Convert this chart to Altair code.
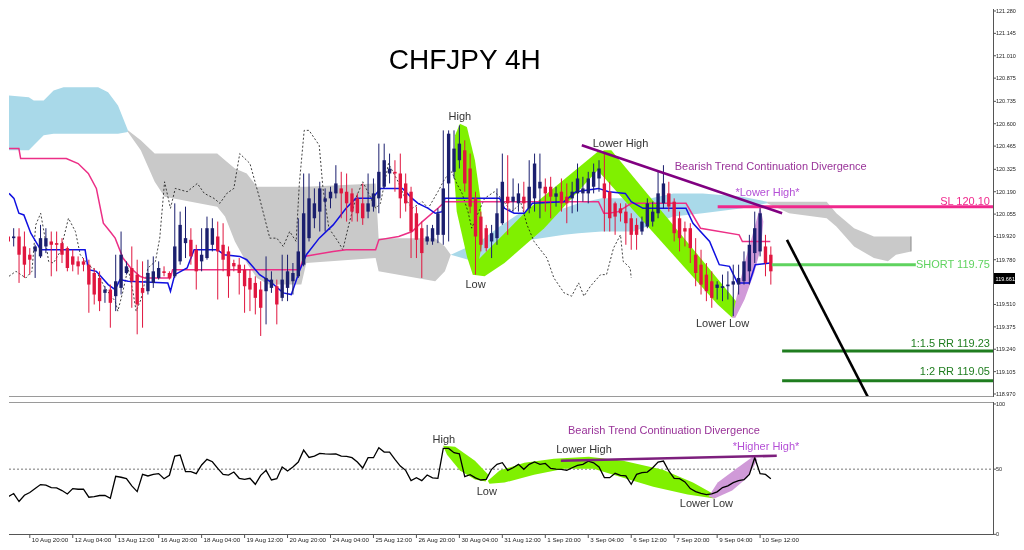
import altair as alt
import pandas as pd

# ---------------- price candles (4H bars, index 0..142) ----------------
opens = [119.92,119.91,119.92,119.86,119.81,119.83,119.80,119.86,119.89,119.88,
         119.88,119.85,119.80,119.77,119.77,119.75,119.70,119.67,119.58,119.60,
         119.56,119.61,119.70,119.73,119.69,119.61,119.59,119.64,119.67,119.71,
         119.70,119.68,119.77,119.88,119.90,119.84,119.77,119.79,119.87,119.92,
         119.87,119.83,119.76,119.75,119.72,119.67,119.64,119.60,119.59,119.61,
         119.62,119.55,119.61,119.65,119.68,119.75,119.91,120.03,120.07,120.13,
         120.15,120.18,120.21,120.19,120.18,120.15,120.12,120.07,120.10,120.15,
         120.22,120.30,120.31,120.30,120.24,120.19,120.06,119.97,119.89,119.89,
         119.93,119.93,120.24,120.31,120.38,120.44,120.33,120.15,120.04,119.97,
         119.89,119.91,120.00,120.16,120.13,120.12,120.16,120.09,120.15,120.21,
         120.22,120.22,120.16,120.19,120.16,120.15,120.18,120.18,120.18,120.22,
         120.27,120.24,120.19,120.12,120.09,120.07,120.03,119.99,119.95,119.98,
         120.01,120.06,120.12,120.18,120.13,120.03,119.97,119.97,119.81,119.75,
         119.69,119.65,119.61,119.61,119.62,119.63,119.63,119.65,119.71,119.82,
         119.83,119.86,119.81]
highs = [119.97,119.97,119.97,119.95,119.85,119.87,119.99,119.97,119.95,119.95,
         119.91,119.86,119.84,119.80,119.79,119.78,119.73,119.71,119.62,119.63,
         119.81,119.95,119.77,119.86,119.78,119.77,119.78,119.80,119.77,119.74,
         119.71,120.12,120.07,120.10,119.97,119.87,119.97,120.04,120.03,120.01,
         120.00,119.86,119.78,119.79,119.75,119.72,119.68,119.65,119.80,119.71,
         119.66,119.81,119.81,119.76,120.03,120.30,120.30,120.21,120.25,120.21,
         120.22,120.35,120.31,120.30,120.21,120.18,120.24,120.30,120.27,120.48,
         120.48,120.42,120.38,120.42,120.30,120.22,120.10,120.01,119.99,119.99,
         120.09,120.56,120.56,120.56,120.59,120.50,120.42,120.19,120.07,119.99,
         119.99,120.21,120.42,120.41,120.27,120.24,120.25,120.38,120.42,120.42,
         120.27,120.28,120.22,120.27,120.24,120.25,120.36,120.28,120.31,120.36,
         120.38,120.42,120.25,120.13,120.12,120.12,120.06,120.03,120.04,120.15,
         120.13,120.31,120.35,120.25,120.15,120.07,120.01,120.00,119.91,119.84,
         119.76,119.71,119.65,119.69,119.71,119.75,119.75,119.83,119.93,120.07,
         120.10,119.93,119.86]
lows = [119.84,119.86,119.64,119.67,119.69,119.67,119.79,119.82,119.68,119.71,
        119.76,119.71,119.71,119.69,119.71,119.46,119.51,119.47,119.52,119.37,
        119.47,119.57,119.69,119.49,119.33,119.37,119.57,119.61,119.66,119.68,
        119.66,119.67,119.75,119.79,119.75,119.60,119.71,119.78,119.83,119.54,
        119.71,119.55,119.71,119.57,119.46,119.47,119.45,119.32,119.39,119.58,
        119.39,119.53,119.53,119.57,119.67,119.74,119.89,119.97,119.95,119.95,
        120.09,120.15,120.03,120.01,120.01,120.01,119.99,120.03,120.07,120.06,
        120.21,120.24,120.19,120.03,120.07,119.79,119.79,119.67,119.87,119.87,
        119.88,119.87,119.89,120.27,120.33,120.19,120.06,119.69,119.83,119.83,
        119.79,119.87,119.99,119.93,120.07,120.07,120.07,120.06,120.07,120.03,
        120.07,120.03,120.10,120.07,120.00,120.06,120.07,120.13,120.12,120.18,
        120.19,119.95,119.95,119.93,120.01,119.87,119.84,119.84,119.93,119.97,
        119.98,120.03,120.09,120.07,119.89,119.83,119.86,119.76,119.62,119.57,
        119.53,119.49,119.54,119.53,119.54,119.44,119.57,119.63,119.63,119.76,
        119.80,119.68,119.63]
closes = [119.89,119.92,119.81,119.75,119.78,119.86,119.91,119.91,119.87,119.87,
          119.81,119.73,119.75,119.74,119.75,119.63,119.57,119.53,119.60,119.52,
          119.65,119.81,119.74,119.65,119.51,119.58,119.70,119.71,119.73,119.70,
          119.67,119.86,119.99,119.91,119.80,119.71,119.81,119.97,119.97,119.83,
          119.78,119.68,119.74,119.70,119.62,119.60,119.55,119.49,119.67,119.66,
          119.51,119.66,119.71,119.70,119.83,120.06,120.15,120.12,120.21,120.15,
          120.19,120.24,120.18,120.12,120.07,120.06,120.03,120.12,120.18,120.31,
          120.38,120.33,120.30,120.15,120.12,119.95,119.90,119.82,119.92,119.97,
          120.06,120.21,120.54,120.45,120.48,120.24,120.10,119.92,119.87,119.85,
          119.94,120.06,120.25,120.12,120.16,120.18,120.12,120.22,120.36,120.25,
          120.18,120.16,120.18,120.12,120.12,120.19,120.27,120.21,120.27,120.31,
          120.33,120.15,120.03,120.04,120.06,120.00,119.93,119.93,120.01,120.12,
          120.07,120.18,120.24,120.10,119.94,119.91,119.95,119.85,119.70,119.63,
          119.59,119.55,119.63,119.62,119.63,119.65,119.67,119.77,119.87,119.97,
          120.06,119.76,119.71]

# ---------------- RSI-style oscillator ----------------
osc = [29.0,31.3,25.2,30.0,32.1,35.1,38.2,37.7,35.9,35.6,
       33.6,31.0,35.1,34.6,34.6,28.5,29.0,29.8,29.8,27.7,
       44.5,43.8,42.7,37.2,32.8,46.0,44.8,46.0,46.6,42.7,
       45.3,60.0,60.8,48.1,48.1,46.6,53.2,57.5,55.7,50.6,
       46.0,45.5,47.8,43.0,42.2,43.0,38.4,45.3,49.1,41.7,
       42.7,51.7,48.6,51.7,55.5,64.6,59.0,60.0,62.1,61.8,
       61.6,61.8,60.0,59.8,58.8,55.5,50.9,58.8,58.8,66.4,
       63.1,63.1,57.5,52.4,49.1,41.2,43.5,41.2,45.5,43.3,
       43.0,65.9,65.9,62.6,61.8,44.3,45.8,43.3,41.7,42.2,
       49.9,53.7,55.0,49.1,51.1,53.7,49.9,53.7,55.5,53.7,
       54.4,50.6,50.1,49.9,49.1,51.1,52.9,53.7,56.2,54.9,
       51.7,43.5,43.5,46.8,45.3,44.8,38.4,46.0,47.3,47.8,
       51.1,55.5,56.2,48.6,43.0,42.7,40.2,35.1,32.8,31.5,
       30.5,31.0,32.6,35.9,37.2,39.7,41.2,42.0,46.0,58.8,
       46.6,46.0,42.7]

# ---------------- Ichimoku lines (vertex bar index / price) ----------------
tenkan_i = [0.13,1.05,1.97,2.9,4.19,6.03,14.3,14.9,16.4,18.6,19.9,20.8,22.3,29.7,30.2,31.0,33.3,34.6,38.9,40.2,
            43.1,44.4,46.8,48.7,51.2,52.7,54.2,55.5,57.9,60.5,62.9,64.7,67.8,69.3,73.4,75.2,76.3,78.2,79.5,80.8,
            81.3,87.4,91.5,92.4,94.2,96.1,97.6,103.5,105.7,109.9,111.8,114.9,116.0,118.2,126.2,127.5,130.6,132.4,
            134.3,135.8,138.0,139.1,141.9]
tenkan_p = [120.18,120.15,120.06,120.05,119.94,119.84,119.84,119.72,119.71,119.63,119.60,119.66,119.65,119.64,119.59,
            119.69,119.73,119.84,119.84,119.81,119.80,119.78,119.69,119.65,119.58,119.57,119.71,119.81,119.91,119.99,
            120.09,120.15,120.15,120.21,120.21,120.15,120.12,120.09,120.06,120.07,120.15,120.15,120.15,120.09,120.06,
            120.06,120.12,120.13,120.19,120.21,120.19,120.18,120.13,120.09,120.09,120.00,119.89,119.75,119.74,119.64,
            119.64,119.75,119.76]
kijun_i = [0.13,1.97,2.3,10.8,13.0,14.9,16.4,17.7,18.95,19.9,21.35,22.8,24.5,25.4,30.2,30.6,54.2,55.1,60.5,62.9,
           68.4,69.0,72.7,75.2,77.1,80.0,81.3,109.9,110.9,111.8,113.6,116.0,126.2,128.9,136.1,136.7,141.9]
kijun_p = [120.45,120.45,120.39,120.39,120.36,120.30,120.21,120.00,119.95,119.91,119.79,119.73,119.68,119.67,119.67,
           119.72,119.72,119.80,119.83,119.84,119.84,119.90,119.92,119.95,120.01,120.09,120.13,120.13,120.06,120.06,
           120.07,120.12,120.12,119.97,119.93,119.89,119.89]
chikou_i = [0.13,1.42,3.27,4.4,5.11,6.03,6.96,7.5,8.4,9.7,11.2,12.5,13.4,14.9,16.4,18.0,19.9,20.4,21.35,22.3,
            23.2,23.8,24.7,26.0,27.4,28.2,29.1,30.2,31.1,33.3,35.2,36.5,38.3,39.4,40.7,42.0,43.1,45.0,46.8,48.7,
            50.0,51.2,52.4,53.6,54.2,55.1,56.0,57.9,58.6,59.7,61.4,62.3,63.4,64.7,66.0,67.1,68.4,69.3,70.8,72.6,
            73.9,75.2,77.1,78.2,80.0,81.3,82.6,83.5,84.5,85.6,86.3,87.2,88.7,90.5,91.8,93.7,95.5,96.6,97.9,100.3,
            101.6,103.5,104.9,106.2,107.2,108.4,110.3,111.4,112.7,114.0,114.5,115.8,116.0]
chikou_p = [119.68,119.71,119.67,119.71,119.99,120.06,119.89,119.77,119.76,119.83,120.03,119.95,119.81,119.75,119.71,
            119.61,119.53,119.47,119.59,119.73,119.59,119.47,119.54,119.73,119.77,119.91,120.25,120.09,120.21,120.19,
            120.24,120.18,120.15,120.12,120.18,120.21,120.42,120.36,120.15,119.91,119.91,119.86,119.95,119.89,120.24,
            120.56,120.56,120.47,120.21,119.97,119.89,119.84,119.99,120.15,120.25,120.18,120.09,120.12,120.36,120.25,
            120.15,120.09,120.13,120.09,120.19,120.27,120.31,120.24,120.18,120.07,119.97,120.04,120.15,120.19,120.15,
            120.07,120.12,119.99,119.89,119.79,119.67,119.58,119.56,119.64,119.56,119.62,119.69,119.69,119.85,119.93,
            119.77,119.73,119.67]

# ---------------- Ichimoku cloud (segments: vertex bar index, span top, span bottom) ----------------
cloud_seg = ["b1"] * 10 + ["g1"] * 17 + ["b2"] * 13 + ["g2"] * 9
cloud_kind = ["bull"] * 10 + ["bear"] * 17 + ["bull"] * 13 + ["bear"] * 9
cloud_i = [0.13,3.82,4.74,6.59,8.43,10.28,16.74,18.58,20.43,22.27,
           22.27,24.67,27.26,29.1,38.9,40.36,42.2,44.4,46.3,48.5,54.57,55.5,68.4,68.96,79.5,81.3,82.4,
           82.4,87.8,91.5,95.2,103.5,106.2,110.5,116.4,119.7,123.8,129.3,136.7,141.3,
           141.3,145.4,152.4,154.2,157.5,161.2,163.8,165.3,168.1]
cloud_top = [120.77,120.76,120.74,120.74,120.80,120.82,120.82,120.79,120.71,120.56,
             120.56,120.50,120.42,120.42,120.42,120.38,120.33,120.30,120.22,120.22,120.22,120.22,120.24,119.91,119.91,119.86,119.81,
             119.81,119.89,119.98,120.06,120.09,120.12,120.15,120.15,120.15,120.18,120.18,120.16,120.13,
             120.13,120.13,120.13,120.06,119.97,119.92,119.92,119.92,119.92]
cloud_bot = [120.44,120.44,120.47,120.53,120.54,120.54,120.54,120.54,120.54,120.55,
             120.55,120.44,120.25,120.16,120.10,120.04,119.89,119.76,119.67,119.63,119.63,119.76,119.79,119.71,119.65,119.71,119.81,
             119.81,119.76,119.83,119.89,119.93,119.94,119.95,119.95,119.99,120.04,120.06,120.09,120.12,
             120.12,120.06,120.03,119.98,119.86,119.79,119.77,119.81,119.83]
cloud_end_i = [168.1]
cloud_end_top = [119.92]
cloud_end_bot = [119.83]

# ---------------- pattern highlights (vertex bar index / value) ----------------
leaf_high_i = [84.1,85.4,86.9,88.0,88.3,87.2,86.5,85.4,83.5,82.99,83.2]
leaf_high_p = [120.60,120.58,120.38,120.13,119.89,119.70,119.69,119.80,120.07,120.31,120.53]
band_up_i = [86.5,86.9,97.0,110.1,111.2,110.9,99.8,92.4,88.7]
band_up_p = [119.69,119.76,120.09,120.44,120.42,120.36,119.97,119.76,119.68]
band_down_i = [110.9,112.3,136.3,134.8,132.1,108.6]
band_down_p = [120.44,120.44,119.50,119.43,119.51,120.36]
leaf_purple_i = [134.8,135.8,137.1,138.5,140.0,140.6,140.2,138.9,137.1,135.4]
leaf_purple_p = [119.43,119.58,119.76,119.92,120.10,120.01,119.86,119.70,119.54,119.43]

osc_leaf_high_i = [80.96,83.2,86.9,89.4,88.9,86.9,84.1,81.7]
osc_leaf_high_v = [67.9,67.2,56.5,45.8,40.5,42.0,48.9,61.1]
osc_band_i = [89.3,91.5,96.1,101.6,108.1,114.5,121.9,127.5,131.5,131.5,126.5,120.1,114.5,109.0,103.5,97.9,92.4,89.6]
osc_band_v = [41.2,48.9,55.0,58.0,59.5,56.5,49.6,39.7,30.5,27.5,30.5,36.6,43.5,50.4,50.4,45.8,39.7,38.9]
osc_leaf_purple_i = [130.4,132.1,135.8,138.9,139.5,137.6,134.8,131.5]
osc_leaf_purple_v = [29.0,39.7,51.1,60.3,57.3,43.5,33.6,27.5]

# ---------------- trade levels / trend lines ----------------
level_names = ["SL", "SHORT", "RR15", "RR2"]
level_price = [120.10, 119.75, 119.23, 119.05]
level_from = [132.1, 142.2, 144.1, 144.1]
level_to = [183.37, 169.0, 183.37, 183.37]
level_color = ["#f0288c", "#5fd35f", "#1f7d1f", "#1f7d1f"]

trend_i1, trend_p1, trend_i2, trend_p2 = [106.8, 145.0], [120.47, 119.90], [144.1, 160.1], [120.06, 118.95]
trend_color = ["#800080", "#000000"]

osc_trend_i = [102.9, 143.1]
osc_trend_v = [56.5, 60.3]

# ---------------- axes ----------------
price_ticks = [121.280,121.145,121.010,120.875,120.735,120.600,120.465,120.325,120.190,
               120.055,119.920,119.780,119.510,119.375,119.240,119.105,118.970]
osc_ticks = [0, 50, 100]
date_pos = [4 + 8 * k for k in range(18)]
date_labels = ["10 Aug 20:00","12 Aug 04:00","13 Aug 12:00","16 Aug 20:00","18 Aug 04:00","19 Aug 12:00",
               "20 Aug 20:00","24 Aug 04:00","25 Aug 12:00","26 Aug 20:00","30 Aug 04:00","31 Aug 12:00",
               "1 Sep 20:00","3 Sep 04:00","6 Sep 12:00","7 Sep 20:00","9 Sep 04:00","10 Sep 12:00"]
last_price = ["119.661"]

# ---------------- annotations ----------------
top_c_text = ["High", "Low", "Lower High", "Lower Low"]
top_c_i = [84.1, 87.0, 114.0, 133.0]
top_c_p = [120.64, 119.63, 120.48, 119.39]
top_l_text = ["Bearish Trend Continuation Divergence", "*Lower High*"]
top_l_i = [124.1, 135.4]
top_l_p = [120.34, 120.18]
top_l_col = ["#993399", "#b44fd6"]
top_r_text = ["SL 120.10", "SHORT 119.75", "1:1.5 RR 119.23", "1:2 RR 119.05"]
top_r_p = [120.13, 119.75, 119.27, 119.10]
top_r_col = ["#f0288c", "#5fd35f", "#1f7d1f", "#1f7d1f"]
low_c_text = ["High", "Low", "Lower High", "Lower Low",
              "Bearish Trend Continuation Divergence", "*Higher High*"]
low_c_i = [81.1, 89.1, 107.2, 130.0, 122.1, 141.1]
low_c_v = [72.5, 32.8, 64.9, 22.9, 79.4, 67.2]
low_c_col = ["#333333", "#333333", "#333333", "#333333", "#993399", "#b44fd6"]

# ======================================================================
FONT = "Liberation Sans"
W = 984
H1 = 388
H2 = 133
AX = "#555555"
xs = alt.Scale(domain=[0.13, 183.37], nice=False, zero=False)
ys = alt.Scale(domain=[118.952, 121.292], nice=False, zero=False)
vs = alt.Scale(domain=[-0.5, 101.53], nice=False, zero=False)
LIME = "#80f000"
PURP = "#d09ad8"
UPC, DNC = "#1b1f6e", "#e0163f"

candles = pd.DataFrame({"i": list(range(len(opens))), "o": opens, "h": highs, "l": lows, "c": closes})
candles["col"] = [UPC if c >= o else DNC for o, c in zip(opens, closes)]

cloud = pd.DataFrame({"seg": cloud_seg, "i": cloud_i, "top": cloud_top, "bot": cloud_bot,
                      "col": ["#a9d9e9" if k == "bull" else "#c9c9c9" for k in cloud_kind]})


def poly(name, xs_, ys_, col):
    return pd.DataFrame({"shape": name, "k": list(range(len(xs_))), "i": xs_, "p": ys_, "col": col})


top_polys = pd.concat([
    poly("hl", leaf_high_i, leaf_high_p, LIME),
    poly("ub", band_up_i, band_up_p, LIME),
    poly("db", band_down_i, band_down_p, LIME),
    poly("pl", leaf_purple_i, leaf_purple_p, PURP),
])
low_polys = pd.concat([
    poly("rh", osc_leaf_high_i, osc_leaf_high_v, LIME),
    poly("rb", osc_band_i, osc_band_v, LIME),
    poly("rp", osc_leaf_purple_i, osc_leaf_purple_v, PURP),
])

X = alt.X("i:Q", scale=xs, axis=None, title=None)
P = lambda f: alt.Y(f, scale=ys, axis=None, title=None)
V = lambda f: alt.Y(f, scale=vs, axis=None, title=None)
NOCOL = lambda f: alt.Color(f, scale=None, legend=None)

cloud_layer = alt.Chart(cloud).mark_area(interpolate="linear", clip=True).encode(
    x=X, y=P("top:Q"), y2="bot:Q", detail="seg:N", color=NOCOL("col:N"))
cloud_edge = alt.Chart(pd.DataFrame({"i": cloud_end_i, "a": cloud_end_top, "b": cloud_end_bot})).mark_rule(
    color="#8a8a8a", strokeWidth=1).encode(x=X, y=P("a:Q"), y2="b:Q")
poly_top = alt.Chart(top_polys).mark_line(filled=True, blend="multiply", interpolate="linear", clip=True).encode(
    x=X, y=P("p:Q"), order="k:Q", detail="shape:N", color=NOCOL("col:N"))
chikou = alt.Chart(pd.DataFrame({"i": chikou_i, "p": chikou_p})).mark_line(
    color="#111111", strokeWidth=0.8, strokeDash=[2, 2], clip=True).encode(x=X, y=P("p:Q"))
kijun = alt.Chart(pd.DataFrame({"i": kijun_i, "p": kijun_p})).mark_line(
    color="#ec2f86", strokeWidth=1.5, clip=True).encode(x=X, y=P("p:Q"))
tenkan = alt.Chart(pd.DataFrame({"i": tenkan_i, "p": tenkan_p})).mark_line(
    color="#1010e0", strokeWidth=1.5, clip=True).encode(x=X, y=P("p:Q"))
wicks = alt.Chart(candles).mark_rule(strokeWidth=1, clip=True).encode(
    x=X, y=P("l:Q"), y2="h:Q", color=NOCOL("col:N"))
bodies = alt.Chart(candles).mark_rule(strokeWidth=3.4, clip=True).encode(
    x=X, y=P("o:Q"), y2="c:Q", color=NOCOL("col:N"))

levels = alt.Chart(pd.DataFrame({"n": level_names, "p": level_price, "a": level_from, "b": level_to,
                                 "col": level_color})).mark_rule(strokeWidth=3, clip=True).encode(
    x=alt.X("a:Q", scale=xs, axis=None), x2="b:Q", y=P("p:Q"), color=NOCOL("col:N"))
trends = alt.Chart(pd.DataFrame({"a": trend_i1, "pa": trend_p1, "b": trend_i2, "pb": trend_p2,
                                 "col": trend_color})).mark_rule(strokeWidth=2.6, clip=True).encode(
    x=alt.X("a:Q", scale=xs, axis=None), x2="b:Q", y=P("pa:Q"), y2="pb:Q", color=NOCOL("col:N"))

txt_c = alt.Chart(pd.DataFrame({"t": top_c_text, "i": top_c_i, "p": top_c_p})).mark_text(
    font=FONT, fontSize=11, color="#333333", align="center", baseline="middle").encode(
    x=X, y=P("p:Q"), text="t:N")
txt_l = alt.Chart(pd.DataFrame({"t": top_l_text, "i": top_l_i, "p": top_l_p, "col": top_l_col})).mark_text(
    font=FONT, fontSize=11, align="left", baseline="middle").encode(
    x=X, y=P("p:Q"), text="t:N", color=NOCOL("col:N"))
txt_r = alt.Chart(pd.DataFrame({"t": top_r_text, "i": [182.8] * 4, "p": top_r_p, "col": top_r_col})).mark_text(
    font=FONT, fontSize=11, align="right", baseline="middle").encode(
    x=X, y=P("p:Q"), text="t:N", color=NOCOL("col:N"))
title = alt.Chart(pd.DataFrame({"t": ["CHFJPY 4H"], "i": [85.0], "p": [120.98]})).mark_text(
    font=FONT, fontSize=28, color="#000000", align="center", baseline="middle").encode(
    x=X, y=P("p:Q"), text="t:N")

# hand-drawn axes for the price panel
ptick_df = pd.DataFrame({"p": price_ticks})
p_dom = alt.Chart(pd.DataFrame({"d": [0]})).mark_rule(color=AX, strokeWidth=1).encode(
    x=alt.value(W + 0.5), y=alt.value(0), y2=alt.value(H1))
p_bottom = alt.Chart(pd.DataFrame({"d": [0]})).mark_rule(color="#9a9a9a", strokeWidth=1).encode(
    x=alt.value(0), x2=alt.value(W), y=alt.value(H1 - 0.5))
p_ticks = alt.Chart(ptick_df).mark_rule(color=AX, strokeWidth=1).encode(
    x=alt.value(W), x2=alt.value(W + 3), y=P("p:Q"))
p_labels = alt.Chart(ptick_df).mark_text(
    font=FONT, fontSize=5.5, color="#222222", align="left", baseline="middle").encode(
    x=alt.value(W + 3), y=P("p:Q"), text=alt.Text("p:Q", format=".3f"))
tag_box = alt.Chart(pd.DataFrame({"t": last_price})).mark_rect(color="#000000").encode(
    x=alt.value(W + 1), x2=alt.value(W + 22), y=alt.value(264), y2=alt.value(275))
tag_txt = alt.Chart(pd.DataFrame({"t": last_price})).mark_text(
    font=FONT, fontSize=5.5, color="#ffffff", align="left", baseline="middle").encode(
    x=alt.value(W + 2.5), y=alt.value(269.5), text="t:N")

top = alt.layer(cloud_layer, cloud_edge, poly_top, chikou, kijun, tenkan, wicks, bodies, levels, trends,
                txt_c, txt_l, txt_r, title, p_dom, p_bottom, p_ticks, p_labels, tag_box, tag_txt
                ).properties(width=W, height=H1)

# ---------------- lower panel ----------------
mid = alt.Chart(pd.DataFrame({"v": [50]})).mark_rule(color="#777777", strokeDash=[2, 2], strokeWidth=1).encode(
    x=alt.value(0), x2=alt.value(W), y=V("v:Q"))
poly_low = alt.Chart(low_polys.rename(columns={"p": "v"})).mark_line(
    filled=True, blend="multiply", interpolate="linear", clip=True).encode(
    x=X, y=V("v:Q"), order="k:Q", detail="shape:N", color=NOCOL("col:N"))
osc_line = alt.Chart(pd.DataFrame({"i": list(range(len(osc))), "v": osc})).mark_line(
    color="#000000", strokeWidth=1.3, clip=True).encode(x=X, y=V("v:Q"))
osc_trend = alt.Chart(pd.DataFrame({"a": [osc_trend_i[0]], "b": [osc_trend_i[1]],
                                    "va": [osc_trend_v[0]], "vb": [osc_trend_v[1]]})).mark_rule(
    color="#7d1f7d", strokeWidth=2.6, clip=True).encode(
    x=alt.X("a:Q", scale=xs, axis=None), x2="b:Q", y=V("va:Q"), y2="vb:Q")
low_txt = alt.Chart(pd.DataFrame({"t": low_c_text, "i": low_c_i, "v": low_c_v, "col": low_c_col})).mark_text(
    font=FONT, fontSize=11, align="center", baseline="middle").encode(
    x=X, y=V("v:Q"), text="t:N", color=NOCOL("col:N"))

vtick_df = pd.DataFrame({"v": osc_ticks})
l_top = alt.Chart(pd.DataFrame({"d": [0]})).mark_rule(color="#9a9a9a", strokeWidth=1).encode(
    x=alt.value(0), x2=alt.value(W), y=alt.value(0.5))
l_bottom = alt.Chart(pd.DataFrame({"d": [0]})).mark_rule(color=AX, strokeWidth=1).encode(
    x=alt.value(0), x2=alt.value(W + 1), y=alt.value(H2 - 0.5))
l_dom = alt.Chart(pd.DataFrame({"d": [0]})).mark_rule(color=AX, strokeWidth=1).encode(
    x=alt.value(W + 0.5), y=alt.value(0), y2=alt.value(H2))
l_ticks = alt.Chart(vtick_df).mark_rule(color=AX, strokeWidth=1).encode(
    x=alt.value(W), x2=alt.value(W + 3), y=V("v:Q"))
l_labels = alt.Chart(vtick_df).mark_text(
    font=FONT, fontSize=5.5, color="#222222", align="left", baseline="middle").encode(
    x=alt.value(W + 3), y=V("v:Q"), text="v:Q")
date_df = pd.DataFrame({"i": date_pos, "t": date_labels})
d_ticks = alt.Chart(date_df).mark_rule(color=AX, strokeWidth=1).encode(
    x=X, y=alt.value(H2), y2=alt.value(H2 + 3))
d_labels = alt.Chart(date_df).mark_text(
    font=FONT, fontSize=6.2, color="#222222", align="left", baseline="top", dx=2).encode(
    x=X, y=alt.value(H2 + 2), text="t:N")

low = alt.layer(mid, poly_low, osc_line, osc_trend, low_txt, l_top, l_bottom, l_dom, l_ticks, l_labels,
                d_ticks, d_labels).properties(width=W, height=H2)

chart = alt.vconcat(top, low, spacing=3).properties(padding=0).configure_view(stroke=None)

chart.save("out.html", embed_options={"renderer": "svg", "actions": False})
